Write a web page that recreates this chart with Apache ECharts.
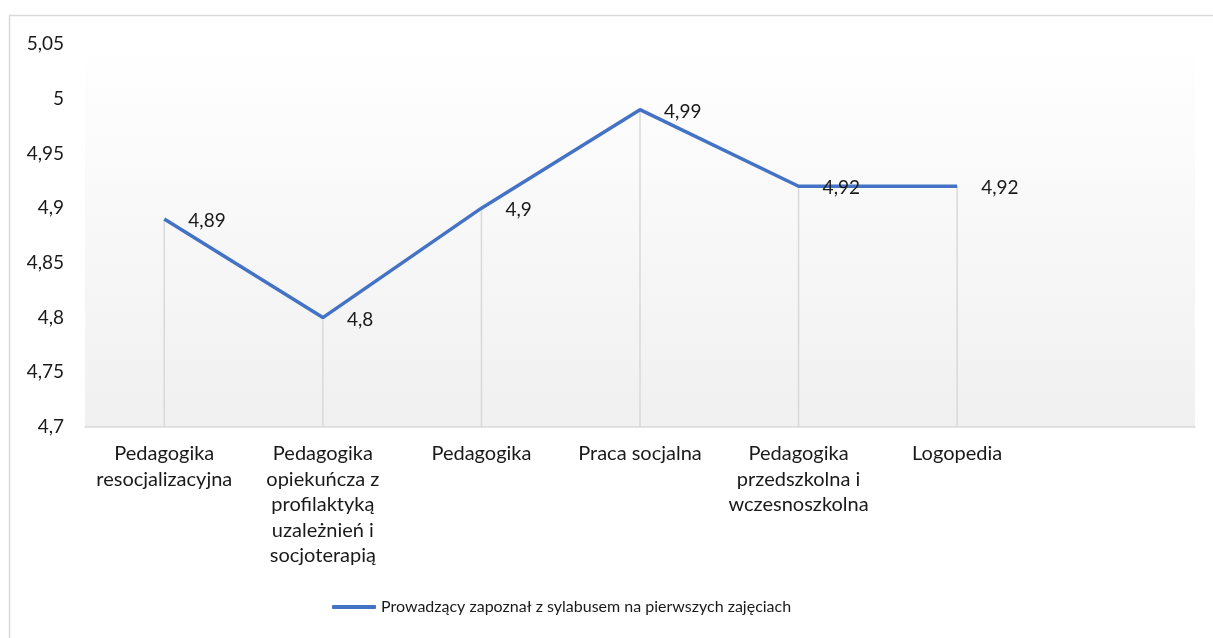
<!DOCTYPE html>
<html>
<head>
<meta charset="utf-8">
<script src="https://cdn.jsdelivr.net/npm/echarts@6/dist/echarts.min.js"></script>
<style>
  html, body { margin: 0; padding: 0; background: #fff; }
  #chart { width: 1213px; height: 638px; }
</style>
</head>
<body>
<div id="chart"></div>
<script>
// kategorie (ostatnia pusta, jak w oryginale)
const categories = [
  "Pedagogika\nresocjalizacyjna",
  "Pedagogika\nopiekuńcza z\nprofilaktyką\nuzależnień i\nsocjoterapią",
  "Pedagogika",
  "Praca socjalna",
  "Pedagogika\nprzedszkolna i\nwczesnoszkolna",
  "Logopedia",
  ""
];
const seriesName = "Prowadzący zapoznał z sylabusem na pierwszych zajęciach";
const values = [4.89, 4.8, 4.9, 4.99, 4.92, 4.92, null];
const yMin = 4.7;
const yMax = 5.05;
const yStep = 0.05;

const fmt = (v) => parseFloat(Number(v).toFixed(2)).toString().replace(".", ",");
const font = "Lato, 'Open Sans', sans-serif";

const chart = echarts.init(document.getElementById("chart"));
const option = {
  animation: false,
  graphic: [
    {
      type: "rect",
      shape: { x: 9.5, y: 15.5, width: 1300, height: 700 },
      style: { fill: "none", stroke: "#d9d9d9", lineWidth: 1.5 },
      silent: true,
    },
  ],
  grid: {
    left: 85,
    right: 18,
    top: 44,
    bottom: 211,
    show: true,
    borderWidth: 0,
    backgroundColor: {
      type: "linear",
      x: 0, y: 0, x2: 0, y2: 1,
      colorStops: [
        { offset: 0, color: "#ffffff" },
        { offset: 1, color: "#f0f0f0" },
      ],
    },
  },
  legend: {
    bottom: 18,
    left: 327,
    data: [seriesName],
    itemWidth: 44,
    itemHeight: 4,
    icon: "roundRect",
    textStyle: { fontFamily: font, fontSize: 16, color: "#1a1a1a" },
  },
  xAxis: {
    type: "category",
    data: categories,
    boundaryGap: true,
    axisLine: { lineStyle: { color: "#d9d9d9", width: 1.5 } },
    axisTick: { show: false },
    splitLine: { show: false },
    axisLabel: {
      interval: 0,
      margin: 14,
      fontFamily: font,
      fontSize: 20,
      lineHeight: 25.5,
      color: "#1a1a1a",
      align: "center",
    },
  },
  yAxis: {
    type: "value",
    min: yMin,
    max: yMax,
    interval: yStep,
    axisLine: { show: false },
    axisTick: { show: false },
    splitLine: { show: false },
    axisLabel: {
      margin: 21,
      fontFamily: font,
      fontSize: 19,
      color: "#1a1a1a",
      formatter: fmt,
    },
  },
  series: [
    {
      // pionowe linie od punktu do osi
      type: "bar",
      name: "drop",
      data: values,
      barWidth: 1.5,
      itemStyle: { color: "#d9d9d9" },
      silent: true,
      z: 1,
    },
    {
      type: "line",
      name: seriesName,
      data: values,
      color: "#4472C4",
      symbol: "circle",
      symbolSize: 0.1,
      showSymbol: true,
      lineStyle: { width: 3.5, color: "#4472C4" },
      label: {
        show: true,
        position: "right",
        distance: 24,
        offset: [0, 2],
        fontFamily: font,
        fontSize: 19,
        color: "#1a1a1a",
        formatter: (p) => fmt(p.value),
      },
      z: 3,
    },
  ],
};
chart.setOption(option);
</script>
</body>
</html>
